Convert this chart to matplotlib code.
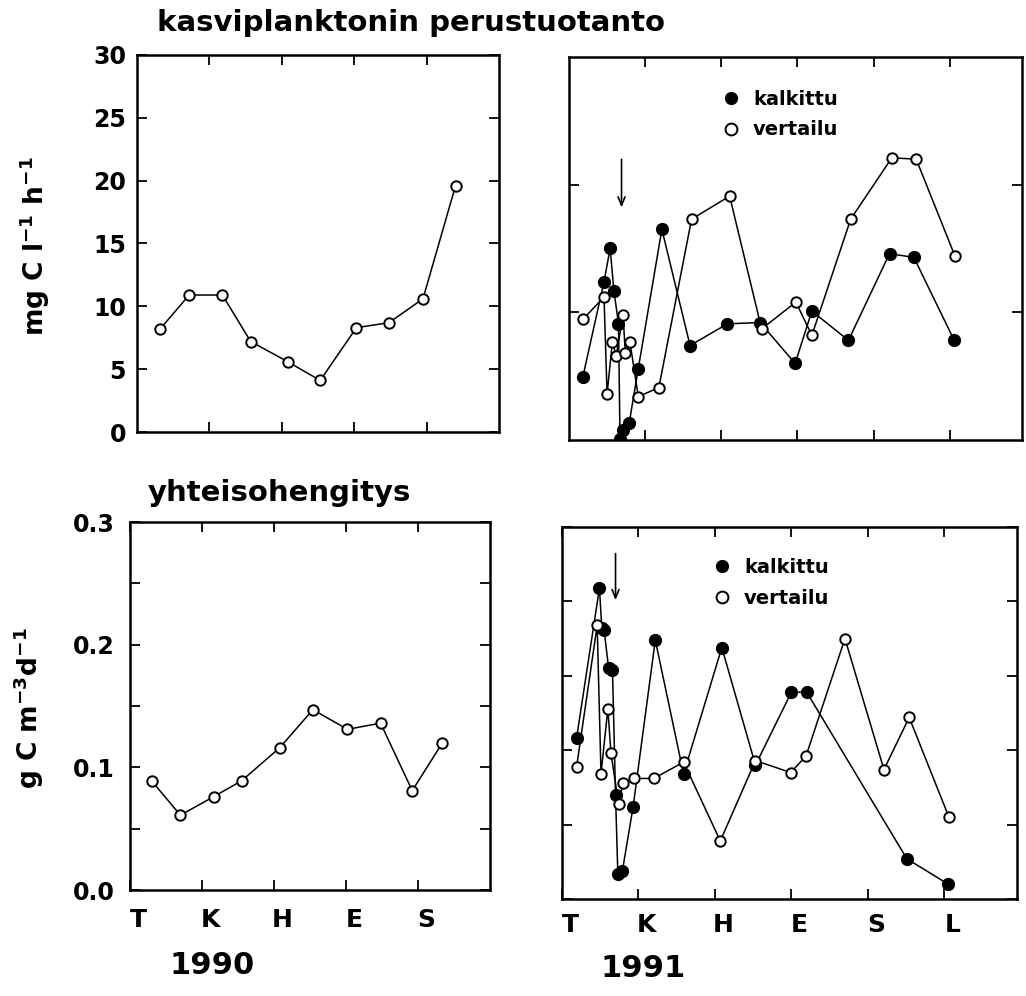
import matplotlib
matplotlib.use('Agg')
import matplotlib.pyplot as plt
from matplotlib.transforms import ScaledTranslation
from matplotlib.lines import Line2D
from matplotlib.ticker import MultipleLocator, FixedLocator

plt.rcParams['font.family'] = ['DejaVu Sans']
plt.rcParams['font.weight'] = 'bold'
plt.rcParams['mathtext.default'] = 'bf'

# ---------------- data ----------------
months_1990 = ['T', 'K', 'H', 'E', 'S']
months_1991 = ['T', 'K', 'H', 'E', 'S', 'L']

# primary production 1990 (mg C l-1 h-1), x in months from start of T
pp90_x = [0.32, 0.72, 1.18, 1.57, 2.08, 2.53, 3.03, 3.48, 3.95, 4.40]
pp90_y = [8.2, 10.9, 10.9, 7.2, 5.6, 4.1, 8.3, 8.7, 10.6, 19.6]

# primary production 1991, limed (kalkittu)
pp91_lim_x = [0.18, 0.46, 0.54, 0.59, 0.65, 0.67, 0.71, 0.79, 0.91, 1.22,
              1.59, 2.08, 2.51, 2.97, 3.19, 3.67, 4.21, 4.53, 5.06]
pp91_lim_y = [4.9, 12.4, 15.0, 11.7, 9.1, 0.1, 0.8, 1.3, 5.6, 16.5,
              7.4, 9.1, 9.2, 6.0, 10.1, 7.8, 14.6, 14.3, 7.8]
# primary production 1991, reference (vertailu)
pp91_ref_x = [0.19, 0.46, 0.50, 0.57, 0.62, 0.71, 0.74, 0.80, 0.91, 1.18,
              1.61, 2.11, 2.53, 2.98, 3.19, 3.70, 4.24, 4.56, 5.07]
pp91_ref_y = [9.5, 11.2, 3.6, 7.7, 6.6, 9.8, 6.8, 7.7, 3.4, 4.1,
              17.3, 19.1, 8.7, 10.8, 8.2, 17.3, 22.1, 22.0, 14.4]

# community respiration 1990 (g C m-3 d-1)
cr90_x = [0.30, 0.70, 1.16, 1.55, 2.08, 2.54, 3.02, 3.48, 3.92, 4.34]
cr90_y = [0.089, 0.061, 0.076, 0.089, 0.116, 0.147, 0.131, 0.136, 0.081, 0.120]

# community respiration 1991, limed
cr91_lim_x = [0.19, 0.49, 0.52, 0.55, 0.61, 0.66, 0.70, 0.73, 0.79, 0.93,
              1.22, 1.59, 2.09, 2.53, 3.00, 3.20, 4.51, 5.05]
cr91_lim_y = [0.108, 0.209, 0.182, 0.181, 0.155, 0.154, 0.070, 0.017, 0.019, 0.062,
              0.174, 0.084, 0.169, 0.090, 0.139, 0.139, 0.027, 0.010]
# community respiration 1991, reference
cr91_ref_x = [0.19, 0.46, 0.51, 0.60, 0.64, 0.74, 0.80, 0.94, 1.20,
              1.59, 2.07, 2.53, 2.99, 3.19, 3.70, 4.21, 4.54, 5.06]
cr91_ref_y = [0.0885, 0.184, 0.084, 0.128, 0.098, 0.064, 0.078, 0.081, 0.081,
              0.092, 0.039, 0.093, 0.085, 0.096, 0.175, 0.087, 0.122, 0.055]

liming_x = 0.69  # arrow marking liming date 1991

# ---------------- figure ----------------
W, H = 1026, 996
fig = plt.figure(figsize=(W / 100, H / 100), dpi=100)


def ax_at(l, t, r, b):
    return fig.add_axes([l / W, 1 - b / H, (r - l) / W, (b - t) / H])


ax_tl = ax_at(137, 55, 499, 432)
ax_tr = ax_at(569, 57, 1022, 440)
ax_bl = ax_at(130, 522, 490, 890)
ax_br = ax_at(562, 527, 1017, 899)

line_kw = dict(color='black', lw=1.1)
open_kw = dict(marker='o', ms=7.5, mfc='white', mec='black', mew=1.4)
fill_kw = dict(marker='o', ms=8.5, mfc='black', mec='black', mew=1.0)

ax_tl.plot(pp90_x, pp90_y, **line_kw, **open_kw)
ax_tr.plot(pp91_lim_x, pp91_lim_y, **line_kw, **fill_kw, zorder=3)
ax_tr.plot(pp91_ref_x, pp91_ref_y, **line_kw, **open_kw, zorder=4)
ax_bl.plot(cr90_x, cr90_y, **line_kw, **open_kw)
ax_br.plot(cr91_lim_x, cr91_lim_y, **line_kw, **fill_kw, zorder=3)
ax_br.plot(cr91_ref_x, cr91_ref_y, **line_kw, **open_kw, zorder=4)

for ax in (ax_tl, ax_bl):
    ax.set_xlim(0, 5)
for ax in (ax_tr, ax_br):
    ax.set_xlim(0, 5.95)
for ax in (ax_tl, ax_tr):
    ax.set_ylim(0, 30)
ax_bl.set_ylim(0, 0.3)
ax_br.set_ylim(0, 0.25)

tick_font = dict(fontsize=17, fontweight='bold')
month_font = dict(fontsize=18, fontweight='bold')

for ax in (ax_tl, ax_tr, ax_bl, ax_br):
    for s in ax.spines.values():
        s.set_linewidth(1.8)
    ax.tick_params(which='both', direction='in', top=True, right=True,
                   length=7, width=1.3)

# x ticks
ax_tl.set_xticks([1, 2, 3, 4])
ax_tl.set_xticklabels([])
ax_tr.set_xticks([1, 2, 3, 4, 5])
ax_tr.set_xticklabels([])
ax_bl.set_xticks(range(len(months_1990)))
ax_bl.set_xticklabels(months_1990, **month_font)
ax_br.set_xticks(range(len(months_1991)))
ax_br.set_xticklabels(months_1991, **month_font)
ax_bl.tick_params(axis='x', pad=13)
ax_br.tick_params(axis='x', pad=10)
for ax in (ax_bl, ax_br):
    for lab in ax.get_xticklabels():
        lab.set_transform(lab.get_transform() +
                          ScaledTranslation(8 / 100, 0, fig.dpi_scale_trans))

# y ticks
ax_tl.yaxis.set_major_locator(MultipleLocator(5))
ax_tl.set_yticklabels([f'{int(v)}' for v in ax_tl.get_yticks()], **tick_font)
ax_tl.tick_params(axis='y', pad=8)
ax_tr.yaxis.set_major_locator(FixedLocator([10, 20]))
ax_tr.set_yticklabels([])
ax_bl.yaxis.set_major_locator(MultipleLocator(0.1))
ax_bl.yaxis.set_minor_locator(MultipleLocator(0.05))
ax_bl.set_yticklabels([f'{v:.1f}' for v in ax_bl.get_yticks()], **tick_font)
ax_bl.tick_params(axis='y', pad=11)
ax_br.yaxis.set_major_locator(MultipleLocator(0.05))
ax_br.set_yticklabels([])

# y labels
ax_tl.set_ylabel(r'mg C l$^{-1}$ h$^{-1}$', fontsize=19, fontweight='bold')
ax_tl.yaxis.set_label_coords(-0.235, 0.493)
ax_bl.set_ylabel(r'g C m$^{-3}$d$^{-1}$', fontsize=19, fontweight='bold')
ax_bl.yaxis.set_label_coords(-0.232, 0.495)

# titles and years
fig.text(157 / W, 1 - 23 / H, 'kasviplanktonin perustuotanto', fontsize=21,
         fontweight='bold', ha='left', va='center')
fig.text(148 / W, 1 - 493 / H, 'yhteisohengitys', fontsize=21,
         fontweight='bold', ha='left', va='center')
fig.text(212 / W, 1 - 965 / H, '1990', fontsize=22, fontweight='bold',
         ha='center', va='center')
fig.text(643 / W, 1 - 968 / H, '1991', fontsize=22, fontweight='bold',
         ha='center', va='center')

# liming arrows
arrow_kw = dict(arrowstyle='->,head_length=0.6,head_width=0.25', lw=1.2, color='black')
ax_tr.annotate('', xy=(liming_x, 18.0), xytext=(liming_x, 22.2), arrowprops=arrow_kw)
ax_br.annotate('', xy=(0.70, 0.199), xytext=(0.70, 0.234), arrowprops=arrow_kw)

# legends
handles = [Line2D([], [], ls='none', marker='o', ms=8.5, mfc='black', mec='black'),
           Line2D([], [], ls='none', marker='o', ms=8.5, mfc='white', mec='black', mew=1.4)]
labels = ['kalkittu', 'vertailu']
for ax, anchor in ((ax_tr, (0.318, 0.935)), (ax_br, (0.3125, 0.937))):
    ax.legend(handles, labels, loc='upper left', bbox_to_anchor=anchor,
              frameon=False, prop=dict(size=14, weight='bold'),
              handlelength=1.0, handletextpad=0.65, labelspacing=0.6,
              borderaxespad=0)

fig.savefig('out.png', dpi=100)
